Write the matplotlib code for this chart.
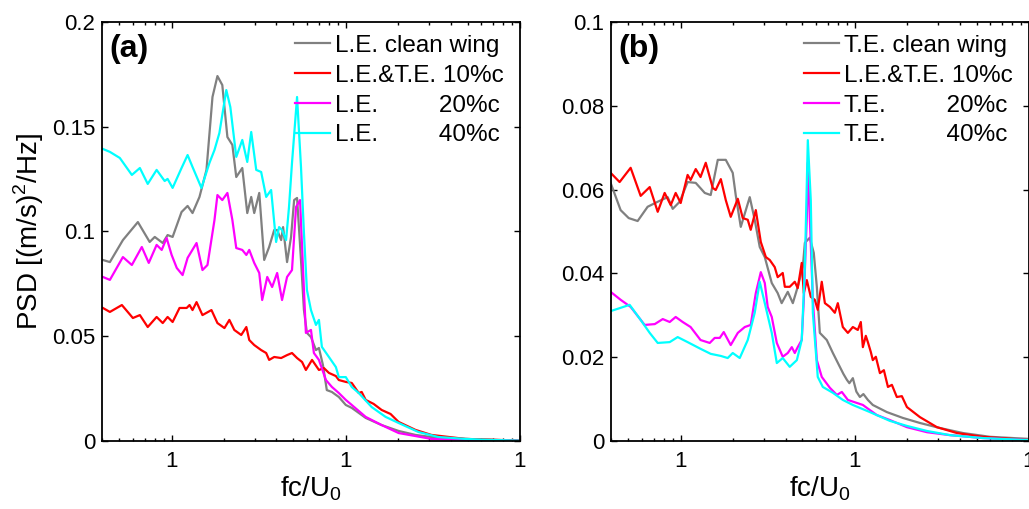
import numpy as np
import matplotlib.pyplot as plt
from matplotlib.ticker import FixedLocator, FixedFormatter, LogLocator, NullFormatter

plt.rcParams['font.family'] = ['Liberation Sans', 'DejaVu Sans']
plt.rcParams['mathtext.fontset'] = 'custom'
plt.rcParams['mathtext.rm'] = 'Liberation Sans'

COLORS = {
    "clean": (0.5, 0.5, 0.5),
    "10": (1.0, 0.0, 0.0),
    "20": (1.0, 0.0, 1.0),
    "40": (0.0, 1.0, 1.0),
}

# ---- (a) leading edge spectra ----
a_clean_f = [0.0403, 0.0442, 0.0525, 0.064, 0.0748, 0.080, 0.0889, 0.0948, 0.1013, 0.114,
             0.1235, 0.1318, 0.1445, 0.1585, 0.1716, 0.1832, 0.1954, 0.209, 0.2232, 0.235,
             0.2545, 0.2718, 0.2864, 0.298, 0.3185, 0.340, 0.363, 0.388, 0.4035, 0.4254,
             0.4365, 0.460, 0.485, 0.505, 0.525, 0.553, 0.575, 0.598, 0.631, 0.674,
             0.701, 0.739, 0.778, 0.832, 0.912, 1.0, 1.082, 1.187, 1.301, 1.607,
             2.01, 2.512, 3.10, 4.85, 9.74]
a_clean_psd = [0.0864, 0.0854, 0.0959, 0.1045, 0.095, 0.0974, 0.0945, 0.0983, 0.0974, 0.1093,
               0.1122, 0.1088, 0.1165, 0.1294, 0.1642, 0.1742, 0.1699, 0.1451, 0.1413, 0.126,
               0.1303, 0.1088, 0.1165, 0.1088, 0.1184, 0.0864, 0.0926, 0.1007, 0.1007, 0.0959,
               0.1021, 0.0854, 0.0974, 0.115, 0.116, 0.0864, 0.0625, 0.0516, 0.0496, 0.0434,
               0.0444, 0.0363, 0.0243, 0.0234, 0.021, 0.0172, 0.0158, 0.0134, 0.011, 0.0076,
               0.0048, 0.0029, 0.0019, 0.001, 0.0002]

a_10_f = [0.0403, 0.0442, 0.0518, 0.0599, 0.0657, 0.0729, 0.082, 0.0889, 0.0948, 0.1013,
          0.111, 0.122, 0.1267, 0.1318, 0.139, 0.1503, 0.1693, 0.1832, 0.201, 0.2145,
          0.229, 0.251, 0.2685, 0.279, 0.298, 0.3266, 0.349, 0.363, 0.388, 0.4254,
          0.46, 0.491, 0.525, 0.561, 0.590, 0.640, 0.701, 0.749, 0.80, 0.877,
          0.912, 1.0, 1.082, 1.187, 1.234, 1.301, 1.445, 1.607, 1.807, 2.01,
          2.512, 3.10, 4.85, 9.74]
a_10_psd = [0.0635, 0.0616, 0.0649, 0.0587, 0.0601, 0.0544, 0.0592, 0.0563, 0.0592, 0.0568,
            0.0635, 0.0635, 0.0649, 0.0625, 0.0663, 0.0601, 0.0625, 0.0563, 0.0539, 0.0578,
            0.053, 0.0506, 0.0544, 0.0482, 0.0458, 0.0434, 0.042, 0.0387, 0.0401, 0.0396,
            0.041, 0.042, 0.0396, 0.0377, 0.0339, 0.0387, 0.0339, 0.0348, 0.0325, 0.031,
            0.0291, 0.0282, 0.0277, 0.0229, 0.0234, 0.0196, 0.0177, 0.0148, 0.0129, 0.0091,
            0.0053, 0.0029, 0.001, 0.0002]

a_20_f = [0.0403, 0.0442, 0.0525, 0.0591, 0.0674, 0.0739, 0.082, 0.0877, 0.0936, 0.1,
          0.107, 0.1156, 0.1235, 0.139, 0.1503, 0.1606, 0.1762, 0.1832, 0.1954, 0.209,
          0.2232, 0.235, 0.2545, 0.2685, 0.279, 0.298, 0.3185, 0.331, 0.354, 0.3776,
          0.4035, 0.4305, 0.460, 0.491, 0.518, 0.546, 0.575, 0.590, 0.631, 0.656,
          0.701, 0.769, 0.832, 0.912, 1.0, 1.082, 1.301, 1.607, 2.01, 3.10,
          4.85, 9.74]
a_20_psd = [0.0783, 0.0769, 0.0878, 0.084, 0.0926, 0.085, 0.0936, 0.0912, 0.0969, 0.0888,
            0.0826, 0.0792, 0.0874, 0.0945, 0.0816, 0.084, 0.1055, 0.1174, 0.115, 0.1184,
            0.1055, 0.0921, 0.0912, 0.0888, 0.0912, 0.085, 0.0802, 0.0673, 0.0783, 0.0735,
            0.0802, 0.0673, 0.0783, 0.0816, 0.1117, 0.115, 0.0721, 0.0516, 0.053, 0.042,
            0.0387, 0.0291, 0.0258, 0.0229, 0.0196, 0.0172, 0.0115, 0.0076, 0.0038, 0.001,
            0.0005, 0.0001]

a_40_f = [0.0403, 0.0442, 0.0504, 0.0591, 0.0657, 0.0729, 0.082, 0.0912, 0.0948, 0.1013,
          0.114, 0.1235, 0.1318, 0.1483, 0.1648, 0.1762, 0.188, 0.206, 0.2173, 0.235,
          0.2545, 0.2718, 0.2864, 0.306, 0.3266, 0.349, 0.3726, 0.398, 0.414, 0.4305,
          0.454, 0.472, 0.491, 0.525, 0.553, 0.575, 0.598, 0.631, 0.674, 0.701,
          0.729, 0.80, 0.877, 0.912, 1.0, 1.082, 1.187, 1.408, 1.693, 2.01,
          2.612, 3.40, 4.85, 6.82, 9.74]
a_40_psd = [0.1394, 0.138, 0.1351, 0.127, 0.1303, 0.1227, 0.1294, 0.1241, 0.1251, 0.1208,
            0.1303, 0.1365, 0.1308, 0.1208, 0.1327, 0.1389, 0.147, 0.1675, 0.1594, 0.1356,
            0.1437, 0.1332, 0.1475, 0.1294, 0.1284, 0.1165, 0.1198, 0.095, 0.1021, 0.1007,
            0.0959, 0.1117, 0.1327, 0.1642, 0.1308, 0.0993, 0.0721, 0.0625, 0.0554, 0.0578,
            0.0449, 0.0401, 0.0353, 0.0305, 0.0305, 0.0258, 0.0229, 0.0162, 0.0115, 0.0086,
            0.0043, 0.0019, 0.001, 0.0005, 0.0002]

# ---- (b) trailing edge spectra ----
b_clean_f = [0.0396, 0.0452, 0.0503, 0.0566, 0.0646, 0.0738, 0.0842, 0.09, 0.0987, 0.1096,
             0.122, 0.1375, 0.1487, 0.1633, 0.1815, 0.199, 0.207, 0.2213, 0.2492, 0.2661,
             0.2844, 0.304, 0.3334, 0.3606, 0.380, 0.412, 0.4405, 0.47, 0.5025, 0.5164,
             0.551, 0.581, 0.605, 0.6295, 0.690, 0.748, 0.82, 0.86, 0.90, 0.93,
             0.974, 1.02, 1.069, 1.12, 1.188, 1.268, 1.527, 1.888, 2.364, 3.08,
             4.18, 5.97, 10.0]
b_clean_psd = [0.0616, 0.0551, 0.0532, 0.0525, 0.0559, 0.0571, 0.0582, 0.0554, 0.0571, 0.0618,
               0.0616, 0.0592, 0.0587, 0.0671, 0.0671, 0.064, 0.0587, 0.0511, 0.0582, 0.0528,
               0.0463, 0.0439, 0.0377, 0.0353, 0.0329, 0.0356, 0.0329, 0.0368, 0.0415, 0.0473,
               0.0485, 0.0449, 0.0368, 0.0258, 0.0241, 0.021, 0.0177, 0.0160, 0.0146, 0.0138,
               0.015, 0.0118, 0.0105, 0.0112, 0.0098, 0.0086, 0.0069, 0.0055, 0.0043, 0.0031,
               0.0019, 0.001, 0.0005]

b_10_f = [0.0396, 0.0446, 0.0516, 0.0589, 0.0664, 0.0738, 0.0809, 0.0877, 0.0936, 0.1,
          0.1096, 0.114, 0.122, 0.130, 0.1393, 0.1528, 0.1589, 0.170, 0.1815, 0.1938,
          0.2128, 0.2272, 0.2427, 0.2524, 0.27, 0.2884, 0.3083, 0.3246, 0.3467, 0.3606,
          0.3855, 0.3963, 0.4228, 0.4519, 0.470, 0.4955, 0.5093, 0.530, 0.5585, 0.589,
          0.6124, 0.6457, 0.673, 0.7187, 0.7675, 0.7985, 0.853, 0.912, 0.974, 1.04,
          1.082, 1.112, 1.156, 1.188, 1.236, 1.268, 1.32, 1.393, 1.468, 1.549,
          1.632, 1.742, 1.862, 1.991, 2.364, 2.96, 3.856, 5.44, 10.0]
b_10_psd = [0.064, 0.0618, 0.0652, 0.0585, 0.0606, 0.0547, 0.0592, 0.0563, 0.0592, 0.0568,
            0.0635, 0.0623, 0.0649, 0.063, 0.0664, 0.0604, 0.0599, 0.0625, 0.0575, 0.0535,
            0.0578, 0.0532, 0.0528, 0.0504, 0.0551, 0.0475, 0.0439, 0.0432, 0.0415, 0.0391,
            0.0401, 0.0368, 0.0368, 0.038, 0.0365, 0.0425, 0.0353, 0.0384, 0.0344, 0.0337,
            0.0313, 0.038, 0.0329, 0.032, 0.0306, 0.0329, 0.0272, 0.0258, 0.0272, 0.0265,
            0.0284, 0.0224, 0.0251, 0.0236, 0.0212, 0.0193, 0.0201, 0.0162, 0.0169, 0.0129,
            0.0134, 0.0105, 0.0107, 0.0081, 0.0057, 0.0033, 0.0019, 0.001, 0.0002]

b_20_f = [0.0396, 0.0452, 0.0516, 0.0621, 0.071, 0.0789, 0.0865, 0.0936, 0.1027, 0.114,
          0.13, 0.1468, 0.1568, 0.1676, 0.1767, 0.1938, 0.2128, 0.2333, 0.2524, 0.27,
          0.2884, 0.304, 0.316, 0.3334, 0.3564, 0.3855, 0.412, 0.4345, 0.4519, 0.47,
          0.4955, 0.5093, 0.53, 0.537, 0.551, 0.574, 0.605, 0.6457, 0.7187, 0.7885,
          0.842, 0.912, 1.112, 1.172, 1.337, 1.589, 1.991, 2.594, 3.516, 5.44,
          10.0]
b_20_psd = [0.0356, 0.0337, 0.032, 0.0277, 0.0279, 0.0291, 0.0284, 0.0296, 0.0284, 0.0272,
            0.0241, 0.0234, 0.0246, 0.0246, 0.026, 0.0229, 0.0258, 0.0272, 0.0277, 0.0353,
            0.0403, 0.0377, 0.032, 0.0296, 0.0234, 0.0201, 0.021, 0.0224, 0.021, 0.0224,
            0.0241, 0.0337, 0.0535, 0.0664, 0.0535, 0.0337, 0.0193, 0.0153, 0.0127, 0.011,
            0.0117, 0.0098, 0.0086, 0.0079, 0.0062, 0.005, 0.0033, 0.0021, 0.0014, 0.0007,
            0.0002]

b_40_f = [0.0396, 0.0446, 0.0509, 0.0589, 0.0664, 0.0738, 0.0865, 0.0961, 0.1096, 0.13,
          0.1487, 0.17, 0.1862, 0.199, 0.2183, 0.2427, 0.2661, 0.2844, 0.304, 0.3334,
          0.3564, 0.3855, 0.4228, 0.4645, 0.4955, 0.5164, 0.537, 0.5585, 0.574, 0.6124,
          0.6546, 0.748, 0.853, 0.974, 1.22, 1.589, 1.991, 2.594, 3.516, 5.44,
          10.0]
b_40_psd = [0.031, 0.0317, 0.0325, 0.0289, 0.0258, 0.0234, 0.0236, 0.0248, 0.0236, 0.022,
            0.0208, 0.0203, 0.0198, 0.021, 0.0198, 0.0241, 0.0306, 0.038, 0.0329, 0.0258,
            0.0186, 0.0198, 0.0177, 0.0193, 0.0241, 0.0415, 0.0718, 0.0575, 0.0306, 0.0153,
            0.0129, 0.0115, 0.0098, 0.0086, 0.0069, 0.0048, 0.0036, 0.0024, 0.0014, 0.0007,
            0.0002]

PAD = " " * 9
panels = [
    {
        "tag": "(a)",
        "ymax": 0.2,
        "yticks": [0, 0.05, 0.1, 0.15, 0.2],
        "yticklabels": ["0", "0.05", "0.1", "0.15", "0.2"],
        "series": [
            (a_clean_f, a_clean_psd, COLORS["clean"], "L.E. clean wing"),
            (a_10_f, a_10_psd, COLORS["10"], "L.E.&T.E. 10%c"),
            (a_20_f, a_20_psd, COLORS["20"], "L.E." + PAD + "20%c"),
            (a_40_f, a_40_psd, COLORS["40"], "L.E." + PAD + "40%c"),
        ],
    },
    {
        "tag": "(b)",
        "ymax": 0.1,
        "yticks": [0, 0.02, 0.04, 0.06, 0.08, 0.1],
        "yticklabels": ["0", "0.02", "0.04", "0.06", "0.08", "0.1"],
        "series": [
            (b_clean_f, b_clean_psd, COLORS["clean"], "T.E. clean wing"),
            (b_10_f, b_10_psd, COLORS["10"], "L.E.&T.E. 10%c"),
            (b_20_f, b_20_psd, COLORS["20"], "T.E." + PAD + "20%c"),
            (b_40_f, b_40_psd, COLORS["40"], "T.E." + PAD + "40%c"),
        ],
    },
]

fig = plt.figure(figsize=(10.29, 5.09), dpi=100)
axes_rects = [[0.0991, 0.1336, 0.4062, 0.8232], [0.5938, 0.1336, 0.4062, 0.8232]]

for rect, p in zip(axes_rects, panels):
    ax = fig.add_axes(rect)
    for f, psd, color, label in p["series"]:
        ax.plot(f, psd, color=color, lw=1.6, label=label, solid_joinstyle="round")
    ax.set_xscale("log")
    ax.set_xlim(10 ** -1.4, 10)
    ax.set_ylim(0, p["ymax"])
    ax.xaxis.set_major_locator(FixedLocator([0.1, 1, 10]))
    ax.xaxis.set_major_formatter(FixedFormatter(["1", "1", "1"]))
    ax.xaxis.set_minor_locator(LogLocator(base=10, subs=np.arange(2, 10)))
    ax.xaxis.set_minor_formatter(NullFormatter())
    ax.set_yticks(p["yticks"])
    ax.set_yticklabels(p["yticklabels"])
    ax.tick_params(which="both", direction="in", top=True, right=True, width=1.0)
    ax.tick_params(which="major", length=4.5, labelsize=16)
    ax.tick_params(which="minor", length=2.5)
    ax.tick_params(axis="x", pad=7)
    ax.tick_params(axis="y", pad=5)
    for s in ax.spines.values():
        s.set_linewidth(1.3)
    ax.set_xlabel(r"fc/U$_\mathregular{0}$", fontsize=20, labelpad=2)
    if p["tag"] == "(a)":
        ax.set_ylabel(r"PSD [(m/s)$^\mathregular{2}$/Hz]", fontsize=20, labelpad=4)
    ax.text(0.017, 0.935, p["tag"], transform=ax.transAxes, fontsize=23,
            fontweight="bold", va="center", ha="left")
    ax.legend(loc="upper right", frameon=False, fontsize=17.5, handlelength=1.45,
              handletextpad=0.2, labelspacing=0.32, borderaxespad=0.1,
              bbox_to_anchor=(0.99, 0.998))

fig.savefig("out.png", dpi=100)
